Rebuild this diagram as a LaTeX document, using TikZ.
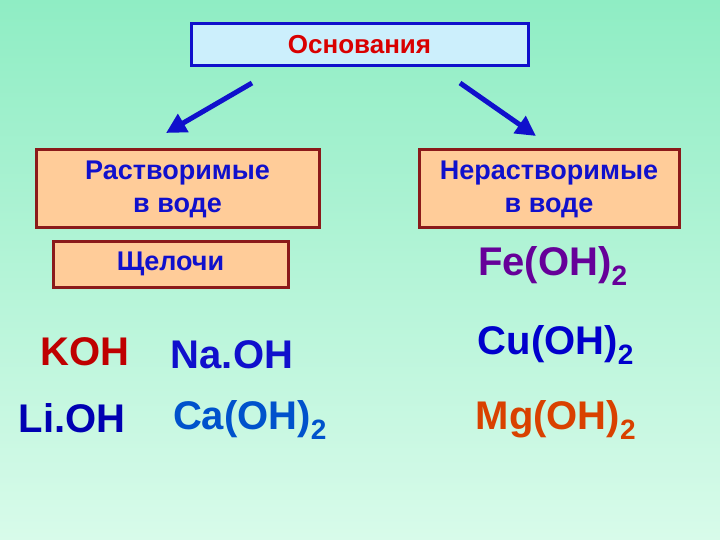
\documentclass[tikz,border=0pt]{standalone}
\usepackage{fontspec}
\setmainfont{Liberation Sans}
\usetikzlibrary{arrows.meta}
\definecolor{bgtop}{HTML}{8FEDC4}
\definecolor{bgbot}{HTML}{D8FBEA}
\definecolor{peach}{HTML}{FFCC99}
\definecolor{brd}{HTML}{8B1A1A}
\definecolor{tblue}{HTML}{1010CC}
\begin{document}
\begin{tikzpicture}[x=1pt,y=-1pt,
 box/.style={draw=brd,line width=3pt,fill=peach,text=tblue,font=\bfseries\fontsize{27}{33}\selectfont,align=center,inner sep=0pt},
 chem/.style={font=\bfseries\fontsize{40}{44}\selectfont,anchor=center},
 arr/.style={draw=tblue,line width=5pt,-{Triangle[length=20pt,width=20pt]}}]
\shade[top color=bgtop,bottom color=bgbot] (0,0) rectangle (720,540);
\useasboundingbox (0,0) rectangle (720,540);
\node[draw=tblue,line width=3pt,fill=cyan!20,minimum width=337pt,minimum height=42pt,text=red!85!black,font=\bfseries\fontsize{26}{28}\selectfont] (t) at (359.5,45) {Основания};
\node[box,minimum width=283pt,minimum height=78pt] (l) at (177.5,189) {Растворимые\\в воде};
\node[box,minimum width=260pt,minimum height=78pt] (r) at (549,189) {Нерастворимые\\в воде};
\node[box,minimum width=235pt,minimum height=46pt] (s) at (170.5,264) {Щелочи};
\coordinate (la) at (252,83); \coordinate (lb) at (166,133);
\coordinate (ra) at (460,83); \coordinate (rb) at (536,136);
\draw[arr] (la) -- (lb);
\draw[arr] (ra) -- (rb);
\node[chem,text=violet!80!blue] (fe) at (553,266) {Fe(OH)\textsubscript{2}};
\node[chem,text=red!75!black] (koh) at (85,352) {KOH};
\node[chem,text=tblue] (naoh) at (232,355) {Na.OH};
\node[chem,text=blue!70!black] (lioh) at (72,418) {Li.OH};
\node[chem,text=blue!60!cyan!80!black] (ca) at (250,420) {Ca(OH)\textsubscript{2}};
\node[chem,text=blue!80!black] (cu) at (556,345) {Cu(OH)\textsubscript{2}};
\node[chem,text=orange!60!red!85!black] (mg) at (556,420) {Mg(OH)\textsubscript{2}};
\end{tikzpicture}
\end{document}
